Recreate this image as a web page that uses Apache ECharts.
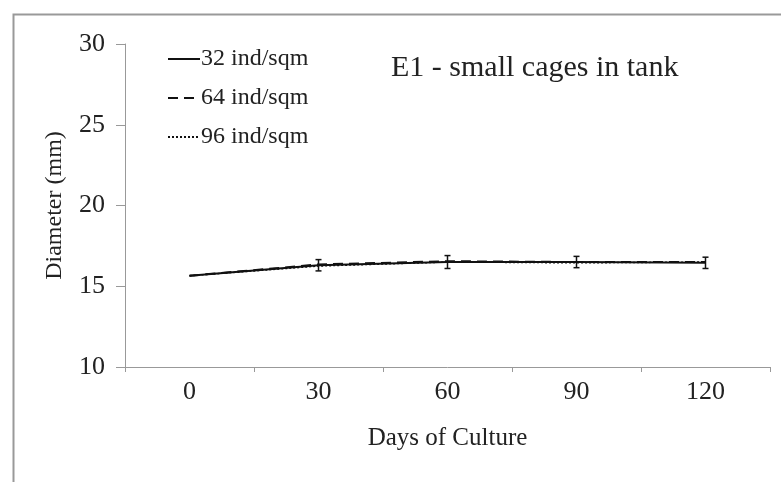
<!DOCTYPE html>
<html>
<head>
<meta charset="utf-8">
<script src="https://cdn.jsdelivr.net/npm/echarts@6/dist/echarts.min.js"></script>
<style>html,body{margin:0;padding:0;background:#fff}#c{width:781px;height:482px}</style>
</head>
<body>
<div id="c"></div>
<script>
var categories = ['0', '30', '60', '90', '120'];
var s32 = [15.65, 16.3, 16.5, 16.5, 16.45];
var s64 = [15.65, 16.35, 16.55, 16.5, 16.5];
var s96 = [15.65, 16.25, 16.5, 16.45, 16.5];
var errMean = [null, 16.3, 16.5, 16.5, 16.45];
var errSize = [null, 0.35, 0.4, 0.35, 0.35];
var yTicks = [10, 15, 20, 25, 30];

var errData = [];
for (var i = 0; i < categories.length; i++) {
  if (errMean[i] != null) errData.push([i, errMean[i] - errSize[i], errMean[i] + errSize[i]]);
}
var font = '"Liberation Serif", "DejaVu Serif", serif';
var chart = echarts.init(document.getElementById('c'));
chart.setOption({
  animation: false,
  backgroundColor: '#fff',
  graphic: [{
    type: 'rect', left: 11, top: 12, shape: {x: 0, y: 0, width: 800, height: 500},
    style: {fill: 'none', stroke: '#999', lineWidth: 2}, z: -1
  }],
  title: {
    text: 'E1 - small cages in tank', left: 386, top: 48,
    textStyle: {fontFamily: font, fontSize: 30, fontWeight: 'normal', color: '#222'}
  },
  legend: {
    orient: 'vertical', left: 162, top: 42, itemWidth: 32, itemHeight: 10, itemGap: 15,
    itemStyle: {opacity: 0},
    textStyle: {fontFamily: font, fontSize: 24, color: '#222', padding: [0, 0, 0, -4]},
    data: ['32 ind/sqm', '64 ind/sqm', '96 ind/sqm']
  },
  grid: {left: 125, right: 11, top: 44, bottom: 115},
  xAxis: {
    type: 'category', data: categories, boundaryGap: true,
    name: 'Days of Culture', nameLocation: 'middle', nameGap: 59,
    nameTextStyle: {fontFamily: font, fontSize: 25, color: '#222'},
    axisLine: {lineStyle: {color: '#999', width: 1}},
    axisTick: {show: true, length: 5, lineStyle: {color: '#999'}},
    axisLabel: {fontFamily: font, fontSize: 26, color: '#222', margin: 12}
  },
  yAxis: {
    type: 'value', min: yTicks[0], max: yTicks[yTicks.length - 1], interval: 5,
    name: 'Diameter (mm)', nameLocation: 'middle', nameGap: 58,
    nameTextStyle: {fontFamily: font, fontSize: 24, color: '#222'},
    axisLine: {show: true, lineStyle: {color: '#999', width: 1}},
    axisTick: {show: true, length: 9, lineStyle: {color: '#999'}},
    axisLabel: {fontFamily: font, fontSize: 26, color: '#222', margin: 20},
    splitLine: {show: false}
  },
  series: [
    {name: '32 ind/sqm', type: 'line', data: s32, symbol: 'none', color: '#111',
     lineStyle: {color: '#111', width: 2, type: 'solid'}},
    {name: '64 ind/sqm', type: 'line', data: s64, symbol: 'none', color: '#111',
     lineStyle: {color: '#111', width: 2, type: [10, 6]}},
    {name: '96 ind/sqm', type: 'line', data: s96, symbol: 'none', color: '#111',
     lineStyle: {color: '#111', width: 1.5, type: [2, 2]}},
    {type: 'custom', data: errData, z: 5,
     renderItem: function (params, api) {
       var lo = api.coord([api.value(0), api.value(1)]);
       var hi = api.coord([api.value(0), api.value(2)]);
       var w = 3;
       var st = {stroke: '#111', lineWidth: 1.5};
       return {type: 'group', children: [
         {type: 'line', shape: {x1: lo[0], y1: lo[1], x2: hi[0], y2: hi[1]}, style: st},
         {type: 'line', shape: {x1: lo[0] - w, y1: lo[1], x2: lo[0] + w, y2: lo[1]}, style: st},
         {type: 'line', shape: {x1: hi[0] - w, y1: hi[1], x2: hi[0] + w, y2: hi[1]}, style: st}
       ]};
     }}
  ]
});
</script>
</body>
</html>
